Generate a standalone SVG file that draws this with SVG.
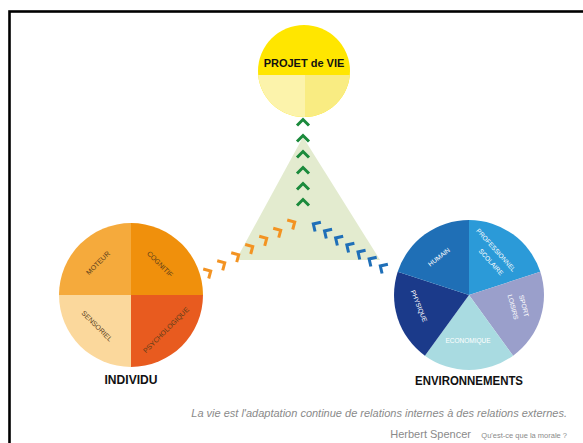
<svg xmlns="http://www.w3.org/2000/svg" width="583" height="443" viewBox="0 0 583 443">
<style>
.lbl{font-family:"Liberation Sans",Arial,sans-serif;font-size:7px;text-anchor:middle}
.ind{fill:#5a3d1a}
.env{fill:#ffffff;font-size:6.5px}
.title{font-family:"Liberation Sans",Arial,sans-serif;font-weight:bold;text-anchor:middle;fill:#111}
.quote{font-family:"Liberation Sans",Arial,sans-serif;fill:#8a8a8a}
.cho{fill:none;stroke:#f39322;stroke-width:3;stroke-linejoin:miter}
.chb{fill:none;stroke:#1f6fb8;stroke-width:3;stroke-linejoin:miter}
.chg{fill:none;stroke:#1b8a3c;stroke-width:3;stroke-linejoin:miter}
</style>
<defs>
<path id="chev" d="M-3.5,-5.5 L2,0 L-3.5,5.5"/>
<path id="chevup" d="M-6,3.5 L0,-2.5 L6,3.5"/>
<clipPath id="yc"><circle cx="304" cy="71" r="46"/></clipPath>
</defs>
<rect width="583" height="443" fill="#ffffff"/>
<rect x="9.5" y="11.5" width="620" height="480" fill="none" stroke="#000" stroke-width="2.6"/>

<g id="triangle">
<polygon points="303,137 236,260 380,260" fill="#e3ebcf"/>
</g>

<g id="projet">
<g clip-path="url(#yc)">
<rect x="250" y="20" width="110" height="110" fill="#ffe600"/>
<rect x="250" y="75" width="55" height="60" fill="#fcf3ab"/>
<rect x="305" y="75" width="60" height="60" fill="#f9ec82"/>
</g>
<text class="title" x="304" y="67" font-size="11">PROJET de VIE</text>
</g>

<g id="individu">
<path d="M131,295 L59,295 A72,72 0 0 1 131,223 Z" fill="#f5aa3c"/>
<path d="M131,295 L131,223 A72,72 0 0 1 203,295 Z" fill="#f0900c"/>
<path d="M131,295 L59,295 A72,72 0 0 0 131,367 Z" fill="#fbd89c"/>
<path d="M131,295 L203,295 A72,72 0 0 1 131,367 Z" fill="#e85b1f"/>
<text class="lbl ind" transform="translate(98,263) rotate(-45)" dy="2.5">MOTEUR</text>
<text class="lbl ind" transform="translate(160,264) rotate(45)" dy="2.5">COGNITIF</text>
<text class="lbl ind" transform="translate(97,326) rotate(45)" dy="2.5">SENSORIEL</text>
<text class="lbl ind" transform="translate(166,330) rotate(-45)" dy="2.5">PSYCHOLOGIQUE</text>
<text class="title" x="131" y="384" font-size="12" textLength="53" lengthAdjust="spacingAndGlyphs">INDIVIDU</text>
</g>

<g id="environnements">
<path d="M469,295 L469,220 A75,75 0 0 1 540.3,271.8 Z" fill="#2b9ad8"/>
<path d="M469,295 L540.3,271.8 A75,75 0 0 1 513.1,355.7 Z" fill="#9a9fcb"/>
<path d="M469,295 L513.1,355.7 A75,75 0 0 1 424.9,355.7 Z" fill="#a9dbe1"/>
<path d="M469,295 L424.9,355.7 A75,75 0 0 1 397.7,271.8 Z" fill="#1b3a8a"/>
<path d="M469,295 L397.7,271.8 A75,75 0 0 1 469,220 Z" fill="#1f6fb6"/>
<text class="lbl env" transform="translate(439,257) rotate(-38)" dy="2.3">HUMAIN</text>
<text class="lbl env" transform="translate(496,250) rotate(48)" dy="2.3">PROFESSIONNEL</text>
<text class="lbl env" transform="translate(491,262) rotate(48)" dy="2.3">SCOLAIRE</text>
<text class="lbl env" transform="translate(513,307) rotate(75)" dy="2.3">LOISIRS</text>
<text class="lbl env" transform="translate(524,306) rotate(75)" dy="2.3">SPORT</text>
<text class="lbl env" x="468" y="343">ECONOMIQUE</text>
<text class="lbl env" transform="translate(419,306) rotate(68)" dy="2.3">PHYSIQUE</text>
<text class="title" x="469" y="385" font-size="12" textLength="108" lengthAdjust="spacingAndGlyphs">ENVIRONNEMENTS</text>
</g>

<g id="connectors">
<g class="chg">
<use href="#chevup" x="303" y="122"/>
<use href="#chevup" x="303" y="138"/>
<use href="#chevup" x="303" y="154"/>
<use href="#chevup" x="303" y="170"/>
<use href="#chevup" x="303" y="186"/>
<use href="#chevup" x="303" y="202"/>
</g>
<g class="cho">
<use href="#chev" transform="translate(209,272) rotate(-30)"/>
<use href="#chev" transform="translate(223,263.8) rotate(-30)"/>
<use href="#chev" transform="translate(237,255.7) rotate(-30)"/>
<use href="#chev" transform="translate(251,247.5) rotate(-30)"/>
<use href="#chev" transform="translate(265,239.3) rotate(-30)"/>
<use href="#chev" transform="translate(279,231.2) rotate(-30)"/>
<use href="#chev" transform="translate(293,223) rotate(-30)"/>
</g>
<g class="chb">
<use href="#chev" transform="translate(315,225) rotate(212)"/>
<use href="#chev" transform="translate(326.2,232) rotate(212)"/>
<use href="#chev" transform="translate(337.3,239) rotate(212)"/>
<use href="#chev" transform="translate(348.5,246) rotate(212)"/>
<use href="#chev" transform="translate(359.7,253) rotate(212)"/>
<use href="#chev" transform="translate(370.8,260) rotate(212)"/>
<use href="#chev" transform="translate(382,267) rotate(212)"/>
</g>
</g>

<g id="quote">
<text class="quote" x="567" y="417" font-size="11" font-style="italic" text-anchor="end">La vie est l'adaptation continue de relations internes à des relations externes.</text>
<text class="quote" x="471" y="438" font-size="11" text-anchor="end">Herbert Spencer</text>
<text class="quote" x="567" y="438" font-size="7.5" text-anchor="end">Qu'est-ce que la morale ?</text>
</g>
</svg>
